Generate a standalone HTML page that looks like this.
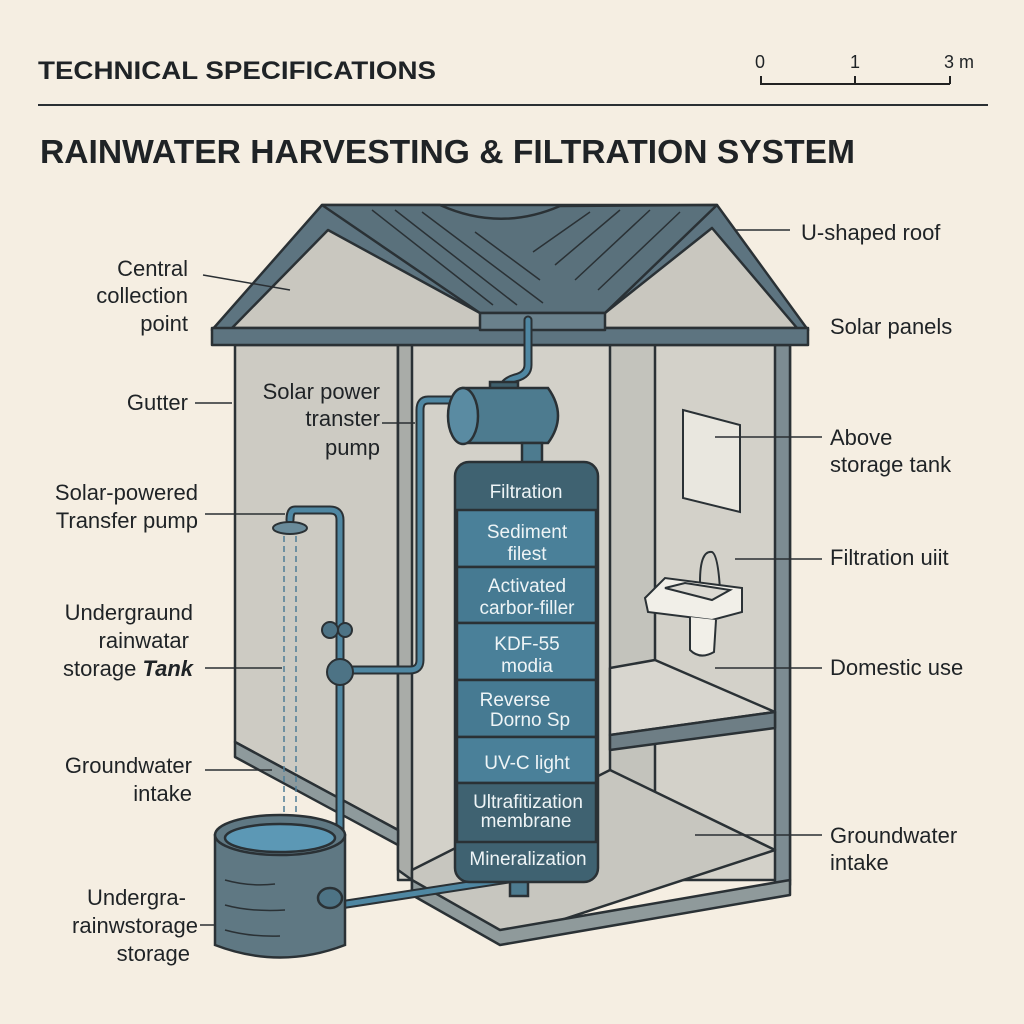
<!DOCTYPE html>
<html><head><meta charset="utf-8"><style>
html,body{margin:0;padding:0;background:#f5eee2;}
svg{display:block;}
text{font-family:"Liberation Sans",sans-serif;fill:#1f2326;}
.l{font-size:22px;}
.f{font-size:19px;fill:#eef4f6;text-anchor:middle;}
</style></head><body>
<svg width="1024" height="1024" viewBox="0 0 1024 1024" xmlns="http://www.w3.org/2000/svg">
<rect width="1024" height="1024" fill="#f5eee2"/>
<!-- header -->
<text x="38" y="79" font-size="25" font-weight="bold" textLength="398" lengthAdjust="spacingAndGlyphs">TECHNICAL SPECIFICATIONS</text>
<line x1="38" y1="105" x2="988" y2="105" stroke="#2a2f33" stroke-width="2"/>
<text x="40" y="163" font-size="33" font-weight="bold" textLength="815" lengthAdjust="spacingAndGlyphs">RAINWATER HARVESTING &amp; FILTRATION SYSTEM</text>
<g stroke="#222" stroke-width="2">
<line x1="760" y1="84" x2="950" y2="84"/><line x1="761" y1="76" x2="761" y2="84"/><line x1="855" y1="76" x2="855" y2="84"/><line x1="950" y1="76" x2="950" y2="84"/></g>
<text x="755" y="68" font-size="18">0</text><text x="850" y="68" font-size="18">1</text><text x="944" y="68" font-size="18">3 m</text>

<!-- walls -->
<g stroke="#2a3135" stroke-width="2.5" stroke-linejoin="round">
<polygon points="235,345 398,345 398,830 235,742" fill="#cdcbc3"/>
<polygon points="398,345 790,345 790,880 398,880" fill="#d3d1c9"/>
<polygon points="398,345 412,345 412,880 398,870" fill="#a9aca8"/>
<polygon points="610,345 655,345 655,880 610,880" fill="#c3c3bc"/>
<polygon points="775,345 790,345 790,885 775,890" fill="#7d8c92"/>
<polygon points="235,742 398,830 398,845 235,757" fill="#8e9a9c"/>
<!-- floor -->
<polygon points="412,870 610,770 775,850 500,940 412,890" fill="#c7c6bf"/>
<polygon points="412,880 500,930 790,880 790,895 500,945 412,895" fill="#8f9a9b"/>
<!-- shelf -->
<polygon points="610,668 655,660 775,712 610,735" fill="#d8d6cf"/>
<polygon points="610,735 775,712 775,728 610,750" fill="#6e7e85"/>
<!-- gable -->
<polygon points="212,330 322,205 717,205 808,330" fill="#5d7480"/>
<polygon points="232,328 328,230 480,313 605,313 712,228 797,328" fill="#c9c7bf"/>
<polygon points="212,328 808,328 808,345 212,345" fill="#5d7480"/>
<!-- roof surface -->
<path d="M322,205 L440,205 Q500,232 560,206 L717,205 L605,313 L480,313 Z" fill="#5a717c"/>
<polygon points="480,313 605,313 605,330 480,330" fill="#6a818c"/>
</g>
<g stroke="#2a3135" stroke-width="1.5">
<line x1="372" y1="210" x2="493" y2="305"/><line x1="395" y1="210" x2="517" y2="305"/><line x1="422" y1="212" x2="543" y2="303"/><line x1="475" y1="232" x2="540" y2="280"/>
<line x1="590" y1="212" x2="533" y2="252"/><line x1="620" y1="210" x2="555" y2="265"/><line x1="650" y1="210" x2="575" y2="280"/><line x1="680" y1="212" x2="598" y2="290"/>
</g>
<!-- mirror -->
<polygon points="683,410 740,425 740,512 683,498" fill="#e9e7df" stroke="#2a3135" stroke-width="2"/>
<!-- sink -->
<g stroke="#2a3135" stroke-width="2" fill="#f1efe8">
<path d="M700,582 Q700,550 712,552 Q718,555 720,590" fill="none"/>
<polygon points="645,598 665,578 742,588 742,612 712,620 648,612"/>
<polygon points="665,588 685,583 730,590 712,600" fill="#dcdad3"/>
<path d="M690,617 L690,650 Q700,660 714,652 L716,620"/>
</g>
<!-- pipes -->
<g fill="none" stroke="#2a3135" stroke-width="9" stroke-linecap="round">
<path d="M528,320 L528,365 Q528,375 515,378 Q502,382 502,392"/>
<path d="M455,400 L428,400 Q420,400 420,410 L420,660 Q420,670 410,670 L345,670"/>
<path d="M340,845 L340,520 Q340,510 330,510 L295,510 Q290,510 290,520"/>
<path d="M340,905 L515,878"/>
</g>
<g fill="none" stroke="#4f87a2" stroke-width="5" stroke-linecap="round">
<path d="M528,320 L528,365 Q528,375 515,378 Q502,382 502,392"/>
<path d="M455,400 L428,400 Q420,400 420,410 L420,660 Q420,670 410,670 L345,670"/>
<path d="M340,845 L340,520 Q340,510 330,510 L295,510 Q290,510 290,520"/>
<path d="M340,905 L515,878"/>
</g>
<!-- shower -->
<ellipse cx="290" cy="528" rx="17" ry="6" fill="#6a8b9a" stroke="#2a3135" stroke-width="2"/>
<g stroke="#4f7d96" stroke-width="1.5" stroke-dasharray="6,4"><line x1="284" y1="536" x2="284" y2="840"/><line x1="296" y1="536" x2="296" y2="840"/></g>
<!-- valves -->
<g fill="#4d7385" stroke="#2a3135" stroke-width="2">
<circle cx="330" cy="630" r="8"/><circle cx="340" cy="672" r="13"/><circle cx="345" cy="630" r="7"/>
</g>
<!-- tank -->
<g stroke="#2a3135" stroke-width="2.5">
<path d="M215,835 L215,945 Q280,970 345,945 L345,835 Z" fill="#5f7883"/>
<ellipse cx="280" cy="835" rx="65" ry="20" fill="#5f7883"/>
<ellipse cx="280" cy="838" rx="55" ry="14" fill="#5c98b5"/>
<ellipse cx="330" cy="898" rx="12" ry="10" fill="#4d7385"/>
</g>
<g stroke="#2a3135" stroke-width="1.5" fill="none"><path d="M225,880 Q250,887 275,884"/><path d="M225,905 Q250,912 285,910"/><path d="M225,930 Q250,937 280,936"/></g>
<!-- pump -->
<g stroke="#2a3135" stroke-width="2.5">
<rect x="490" y="382" width="28" height="8" fill="#3f5f6c"/>
<path d="M463,388 L548,388 Q568,416 548,443 L463,443 Z" fill="#4d7b8f"/>
<ellipse cx="463" cy="416" rx="15" ry="28" fill="#5a8ba2"/>
<rect x="522" y="443" width="20" height="22" fill="#4d7b8f"/>
<rect x="510" y="878" width="18" height="18" fill="#4d7b8f"/>
</g>
<!-- filter column -->
<g stroke="#2a3135" stroke-width="2.5">
<rect x="455" y="462" width="143" height="420" rx="14" fill="#3f6271"/>
<rect x="457" y="510" width="139" height="57" fill="#4a8099"/>
<rect x="457" y="567" width="139" height="56" fill="#467a92"/>
<rect x="457" y="623" width="139" height="57" fill="#4a8099"/>
<rect x="457" y="680" width="139" height="57" fill="#467a92"/>
<rect x="457" y="737" width="139" height="46" fill="#4a8099"/>
<rect x="457" y="783" width="139" height="59" fill="#3f6271"/>
</g>
<text class="f" x="526" y="498" font-size="21">Filtration</text>
<text class="f" x="527" y="538">Sediment</text><text class="f" x="527" y="560">filest</text>
<text class="f" x="527" y="592">Activated</text><text class="f" x="527" y="614">carbor-filler</text>
<text class="f" x="527" y="650">KDF-55</text><text class="f" x="527" y="672">modia</text>
<text class="f" x="515" y="706">Reverse</text><text class="f" x="530" y="726" font-size="15">Dorno Sp</text>
<text class="f" x="527" y="769">UV-C light</text>
<text class="f" x="528" y="808">Ultrafitization</text><text class="f" x="526" y="827">membrane</text>
<text class="f" x="528" y="865">Mineralization</text>

<!-- leader lines -->
<g stroke="#2a2f33" stroke-width="1.5">
<line x1="203" y1="275" x2="290" y2="290"/>
<line x1="195" y1="403" x2="232" y2="403"/>
<line x1="205" y1="514" x2="285" y2="514"/>
<line x1="205" y1="668" x2="282" y2="668"/>
<line x1="205" y1="770" x2="272" y2="770"/>
<line x1="200" y1="925" x2="215" y2="925"/>
<line x1="735" y1="230" x2="790" y2="230"/>
<line x1="715" y1="437" x2="822" y2="437"/>
<line x1="735" y1="559" x2="822" y2="559"/>
<line x1="715" y1="668" x2="822" y2="668"/>
<line x1="695" y1="835" x2="822" y2="835"/>
<line x1="382" y1="423" x2="415" y2="423"/>
</g>
<!-- left labels -->
<g class="l" text-anchor="end">
<text class="l" x="188" y="276">Central</text><text class="l" x="188" y="303">collection</text><text class="l" x="188" y="331">point</text>
<text class="l" x="188" y="410">Gutter</text>
<text class="l" x="198" y="500">Solar-powered</text><text class="l" x="198" y="528">Transfer pump</text>
<text class="l" x="193" y="620">Undergraund</text><text class="l" x="189" y="648">rainwatar</text><text class="l" x="193" y="676">storage <tspan font-weight="bold" font-style="italic">Tank</tspan></text>
<text class="l" x="192" y="773">Groundwater</text><text class="l" x="192" y="801">intake</text>
<text class="l" x="186" y="905">Undergra-</text><text class="l" x="198" y="933">rainwstorage</text><text class="l" x="190" y="961">storage</text>
<text class="l" x="380" y="399">Solar power</text><text class="l" x="380" y="426">transter</text><text class="l" x="380" y="455">pump</text>
</g>
<!-- right labels -->
<text class="l" x="801" y="240">U-shaped roof</text>
<text class="l" x="830" y="334">Solar panels</text>
<text class="l" x="830" y="445">Above</text><text class="l" x="830" y="472">storage tank</text>
<text class="l" x="830" y="565">Filtration uiit</text>
<text class="l" x="830" y="675">Domestic use</text>
<text class="l" x="830" y="843">Groundwater</text><text class="l" x="830" y="870">intake</text>
</svg>
</body></html>
